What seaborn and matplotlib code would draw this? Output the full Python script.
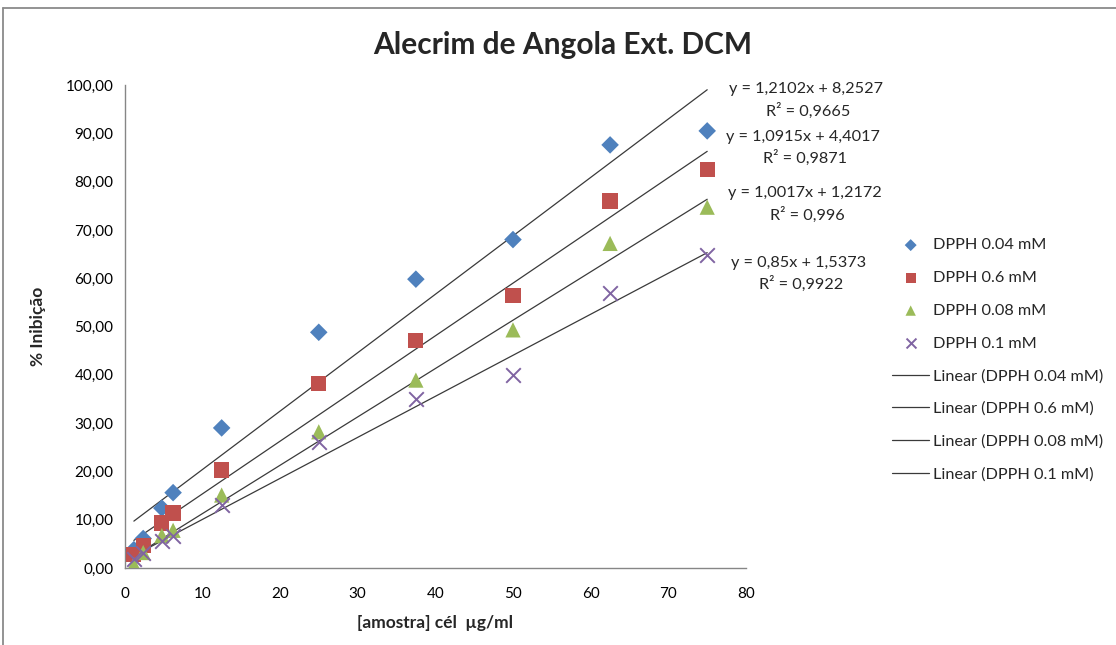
import matplotlib
matplotlib.use("Agg")
import matplotlib.pyplot as plt
from matplotlib.lines import Line2D
import numpy as np
import pandas as pd
import seaborn as sns

# Sample concentrations (µg/ml)
conc = [1.2, 2.4, 4.8, 6.25, 12.5, 25, 37.5, 50, 62.5, 75]

# % inhibition for each DPPH concentration
inib_004 = [3.8, 6.1, 12.4, 15.6, 29.0, 48.8, 59.8, 68.0, 87.6, 90.5]
inib_06 = [2.8, 4.6, 9.3, 11.4, 20.3, 38.2, 47.1, 56.4, 76.0, 82.5]
inib_008 = [0.7, 3.2, 6.7, 7.8, 15.1, 28.2, 38.9, 49.3, 67.2, 74.7]
inib_01 = [1.9, 3.0, 5.6, 6.6, 13.0, 26.1, 34.9, 40.0, 56.9, 64.9]

series_names = ["DPPH 0.04 mM", "DPPH 0.6 mM", "DPPH 0.08 mM", "DPPH 0.1 mM"]

# Linear trendline coefficients (slope, intercept, R²)
slopes = [1.2102, 1.0915, 1.0017, 0.85]
intercepts = [8.2527, 4.4017, 1.2172, 1.5373]
r2_values = ["0,9665", "0,9871", "0,996", "0,9922"]
slope_txt = ["1,2102", "1,0915", "1,0017", "0,85"]
intercept_txt = ["8,2527", "4,4017", "1,2172", "1,5373"]

colors = ["#4F81BD", "#C0504D", "#9BBB59", "#8064A2"]
markers = ["D", "s", "^", "x"]
marker_sizes = [80, 120, 120, 110]

sns.set_style("white")
plt.rcParams["font.family"] = ["Lato", "DejaVu Sans"]

fig = plt.figure(figsize=(11.16, 6.45), dpi=100)
ax = fig.add_axes([0.1116, 0.1194, 0.5569, 0.7488])

values = [inib_004, inib_06, inib_008, inib_01]
for name, yv, c, m, s in zip(series_names, values, colors, markers, marker_sizes):
    df = pd.DataFrame({"conc": conc, "inib": yv})
    kw = dict(linewidth=1.4) if m == "x" else dict(edgecolor="none")
    sns.scatterplot(data=df, x="conc", y="inib", color=c, marker=m, s=s,
                    label=name, ax=ax, zorder=3, **kw)

xmin, xmax = min(conc), max(conc)
for name, a, b in zip(series_names, slopes, intercepts):
    xs = np.array([xmin, xmax])
    fit = pd.DataFrame({"conc": xs, "inib": a * xs + b})
    sns.lineplot(data=fit, x="conc", y="inib", color="#3a3a3a", linewidth=0.9,
                 label=f"Linear ({name})", ax=ax, zorder=2)

ax.set_xlim(0, 80)
ax.set_ylim(0, 100)
ax.set_xticks(range(0, 81, 10))
ax.set_yticks(range(0, 101, 10))
ax.set_yticklabels([f"{v:.2f}".replace(".", ",") for v in range(0, 101, 10)])
ax.tick_params(axis="both", length=0, labelsize=11, colors="#000000")
ax.tick_params(axis="y", pad=8)
ax.tick_params(axis="x", pad=14)
for side in ["top", "right"]:
    ax.spines[side].set_visible(False)
for side in ["left", "bottom"]:
    ax.spines[side].set_color("#868686")
    ax.spines[side].set_linewidth(1.0)

ax.set_xlabel("[amostra] cél  µg/ml", fontsize=12.5, fontweight="bold", labelpad=10)
ax.set_ylabel("% Inibição", fontsize=12.5, fontweight="bold", labelpad=14)

fig.text(0.5045, 0.930, "Alecrim de Angola Ext. DCM", ha="center", va="center",
         fontsize=21.5, fontweight="bold")

# Trendline equations
eq_pos = [(806, 89, 111), (803, 137, 158), (805, 193, 215), (799, 263, 284)]
for (px, py1, py2), st, it, r2 in zip(eq_pos, slope_txt, intercept_txt, r2_values):
    fig.text(px / 1116, 1 - py1 / 645, f"y = {st}x + {it}", ha="center",
             va="center", fontsize=11.7)
    fig.text((px + 2) / 1116, 1 - py2 / 645, f"R² = {r2}", ha="center",
             va="center", fontsize=11.7)

leg = ax.legend(loc="upper left", bbox_to_anchor=(892 / 1116, 1 - 238 / 645),
                bbox_transform=fig.transFigure, frameon=False, fontsize=11.7,
                handlelength=2.3, handletextpad=0.2, labelspacing=1.13,
                borderaxespad=0, borderpad=0, markerscale=0.68)

# Chart-area border
fig.add_artist(Line2D([3 / 1116, 1], [1 - 8 / 645, 1 - 8 / 645],
                      transform=fig.transFigure, color="#8a8a8a", linewidth=1.3))
fig.add_artist(Line2D([3 / 1116, 3 / 1116], [0, 1 - 8 / 645],
                      transform=fig.transFigure, color="#8a8a8a", linewidth=1.3))

fig.savefig("out.png", dpi=100)
